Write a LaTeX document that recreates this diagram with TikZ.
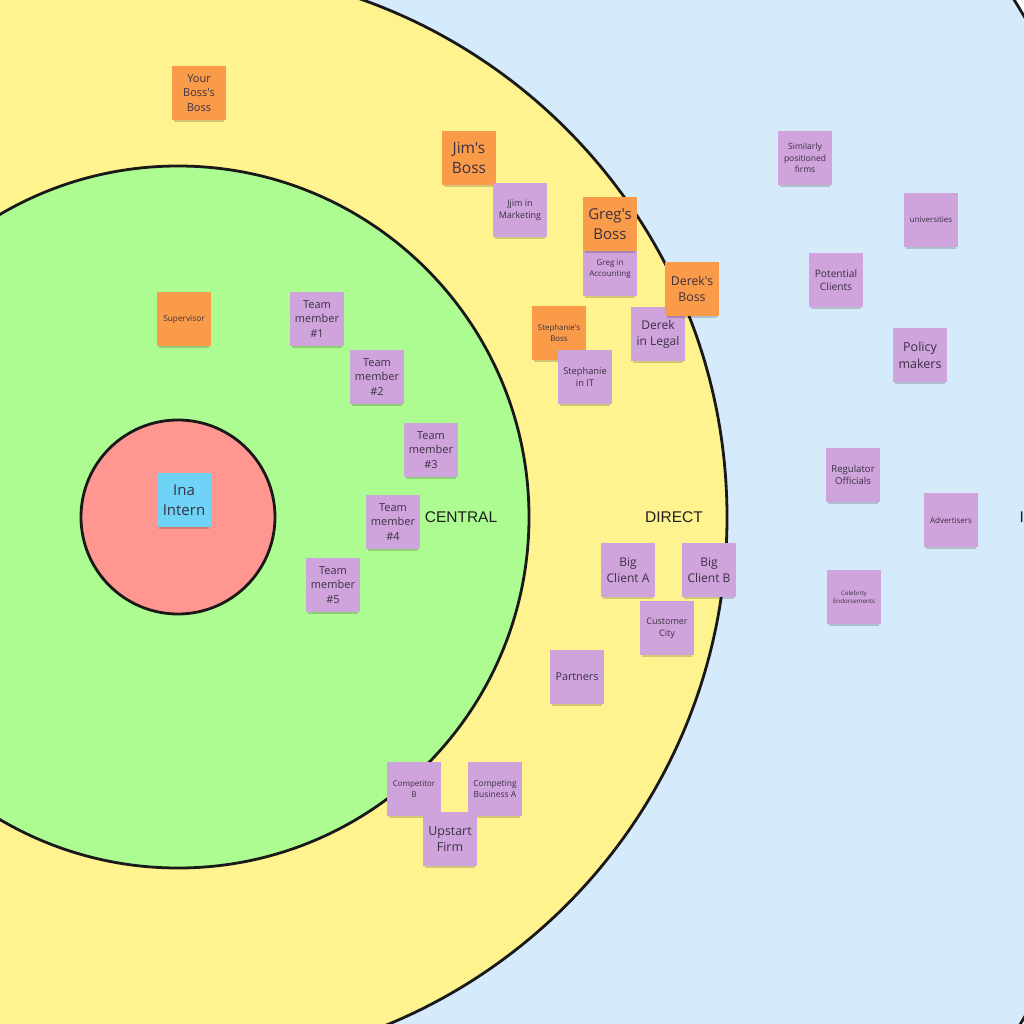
\documentclass[tikz,border=0pt]{standalone}
\usepackage{fontspec}
\setmainfont{Open Sans}
\newfontfamily\notefont{Open Sans}
\newfontfamily\labelfont{Liberation Sans}
\usetikzlibrary{shadows}
\definecolor{cblue}{HTML}{D5EAFB}
\definecolor{cyellow}{HTML}{FFF38F}
\definecolor{cgreen}{HTML}{ADFC92}
\definecolor{cred}{HTML}{FF9690}
\definecolor{corange}{HTML}{FA9B4A}
\definecolor{cpurple}{HTML}{CFA3DC}
\definecolor{ccyan}{HTML}{6ED3F7}
\definecolor{ctext}{HTML}{3A3142}
\tikzset{
  ring/.style={draw=black!90, line width=2.8pt},
  note/.style={minimum width=54pt, minimum height=54pt, inner sep=0pt, align=center,
    text=ctext, drop shadow={shadow xshift=0pt, shadow yshift=-4pt, shadow scale=0.93, opacity=0.18, fill=black}},
  pnote/.style={note, fill=cpurple},
  onote/.style={note, fill=corange},
  cnote/.style={note, fill=ccyan},
  zone/.style={font=\labelfont\fontsize{15.5}{18}\selectfont, text=black!88},
}
\newcommand\fz[1]{\notefont\fontsize{#1}{1.33\dimexpr#1pt\relax}\selectfont}
\begin{document}
\begin{tikzpicture}[x=1pt,y=-1pt]
\useasboundingbox (0,0) rectangle (1024,1024);
\clip (0,0) rectangle (1024,1024);
\fill[white] (0,0) rectangle (1024,1024);
\coordinate (ctr) at (178,517);
\filldraw[ring, fill=cblue] (ctr) circle[radius=983];
\filldraw[ring, fill=cyellow] (ctr) circle[radius=549];
\filldraw[ring, fill=cgreen] (ctr) circle[radius=351];
\filldraw[ring, fill=cred] (ctr) circle[radius=97];

\node[zone] (central) at (461,517) {CENTRAL};
\node[zone] (direct) at (674,517) {DIRECT};
\node[zone, anchor=west] (indirect) at (1016,517) {INDIRECT};

% central
\node[cnote, font=\fz{15}] (ina) at (184,500) {Ina\\Intern};
\node[onote, font=\fz{8.3}] (sup) at (184,319) {Supervisor};
\node[pnote, font=\fz{11}] (tm1) at (317,319) {Team\\member\\\#1};
\node[pnote, font=\fz{11}] (tm2) at (377,377) {Team\\member\\\#2};
\node[pnote, font=\fz{11}] (tm3) at (431,450) {Team\\member\\\#3};
\node[pnote, font=\fz{11}] (tm4) at (393,522) {Team\\member\\\#4};
\node[pnote, font=\fz{11}] (tm5) at (333,585) {Team\\member\\\#5};

% direct
\node[onote, font=\fz{11}] (ybb) at (199,93) {Your\\Boss's\\Boss};
\node[onote, font=\fz{15.5}] (jimb) at (469,158) {Jim's\\Boss};
\node[pnote, font=\fz{9}] (jim) at (520,210) {Jjim in\\Marketing};
\node[pnote, font=\fz{8}] (greg) at (610,269) {Greg in\\Accounting};
\node[onote, font=\fz{15}] (gregb) at (610,224) {Greg's\\Boss};
\node[pnote, font=\fz{12}] (derek) at (658,334) {Derek\\in Legal};
\node[onote, font=\fz{12.3}] (derekb) at (692,289) {Derek's\\Boss};
\node[onote, font=\fz{7.9}] (stephb) at (559,333) {Stephanie's\\Boss};
\node[pnote, font=\fz{9.3}] (steph) at (585,377) {Stephanie\\in IT};
\node[pnote, font=\fz{12}] (bca) at (628,570) {Big\\Client A};
\node[pnote, font=\fz{12}] (bcb) at (709,570) {Big\\Client B};
\node[pnote, font=\fz{9}] (city) at (667,628) {Customer\\City};
\node[pnote, font=\fz{10.8}] (part) at (577,677) {Partners};
\node[pnote, font=\fz{8}] (compb) at (414,789) {Competitor\\B};
\node[pnote, font=\fz{8.5}] (compa) at (495,789) {Competing\\Business A};
\node[pnote, font=\fz{12.4}] (upst) at (450,839) {Upstart\\Firm};

% indirect
\node[pnote, font=\fz{8.5}] (sim) at (805,158) {Similarly\\positioned\\firms};
\node[pnote, font=\fz{7.9}] (uni) at (931,220) {universities};
\node[pnote, font=\fz{10.2}] (pot) at (836,280) {Potential\\Clients};
\node[pnote, font=\fz{12.5}] (pol) at (920,355) {Policy\\makers};
\node[pnote, font=\fz{9.6}] (reg) at (853,475) {Regulator\\Officials};
\node[pnote, font=\fz{8}] (adv) at (951,520) {Advertisers};
\node[pnote, font=\fz{6.2}] (cel) at (854,597) {Celebrity\\Endorsements};
\end{tikzpicture}
\end{document}
